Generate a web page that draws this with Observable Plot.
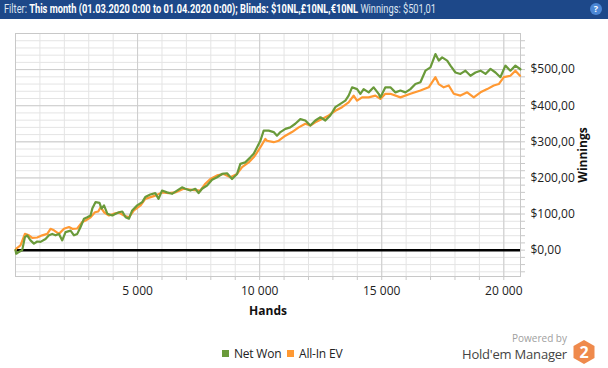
<!DOCTYPE html>
<html>
<head>
<meta charset="utf-8">
<script src="https://cdn.jsdelivr.net/npm/d3@7"></script>
<script src="https://cdn.jsdelivr.net/npm/@observablehq/plot@0.6"></script>
<style>
  html, body { margin: 0; padding: 0; background: #fff; }
  body { width: 608px; height: 368px; position: relative; overflow: hidden; font-family: "Open Sans", "Noto Sans", sans-serif; }
  #header { position: absolute; left: 0; top: 0; width: 608px; height: 19px; background: #1d4889; color: #fff; }
  #htext { position: absolute; left: 4px; top: 0; font-family: Roboto, "Open Sans", sans-serif; font-size: 12px; line-height: 19px; white-space: nowrap; transform-origin: 0 50%; }
  #htext .lbl { color: #dfe6f2; }
  #htext b { font-weight: 700; }
  #help { position: absolute; right: 6px; top: 3px; width: 12px; height: 12px; border-radius: 50%; background: #4a86d4; color: #fff; font-size: 9px; line-height: 12px; text-align: center; font-weight: bold; }
  #chart { position: absolute; left: 0; top: 19px; }
  .leg { position: absolute; top: 345px; font-size: 12px; color: #222; display: flex; align-items: center; letter-spacing: -0.2px; }
  .sw { width: 7px; height: 7px; margin-right: 5px; }
  #powered { position: absolute; right: 41px; top: 333px; font-size: 10px; line-height: 11px; color: #a0a0a0; }
  #hm { position: absolute; right: 41px; top: 347px; font-size: 13px; line-height: 15px; color: #444; letter-spacing: -0.2px; }
  #logo { position: absolute; left: 572px; top: 339px; }
</style>
</head>
<body>
<div id="header"><div id="htext"><span class="lbl">Filter:</span> <b>This month (01.03.2020 0:00 to 01.04.2020 0:00); Blinds: $10NL,£10NL,€10NL</b> <span class="lbl">Winnings: $501,01</span></div><div id="help">?</div></div>
<div id="chart"></div>
<div class="leg" style="left:222px"><div class="sw" style="background:#6a9a3a"></div>Net Won</div>
<div class="leg" style="left:287px"><div class="sw" style="background:#ff9933"></div>All-In EV</div>
<div id="powered">Powered by</div>
<div id="hm">Hold'em Manager</div>
<svg id="logo" width="24" height="26" viewBox="0 0 24 26">
  <polygon points="12,1 22.5,7 22.5,19 12,25 1.5,19 1.5,7" fill="#ef8a4c"/>
  <text x="12" y="19" text-anchor="middle" font-size="16" font-weight="bold" fill="#fff" font-family="Open Sans, sans-serif">2</text>
</svg>
<script>
// Net Won (green)
const netHands = [0,30,140,275,385,480,615,755,890,1025,1230,1370,1505,1640,1780,1915,2050,2255,2395,2530,2665,2805,2940,3075,3145,3280,3440,3525,3625,3760,3965,4100,4240,4375,4510,4645,4780,4985,5190,5315,5520,5725,5860,6000,6205,6410,6615,6820,6955,7160,7365,7500,7640,7845,8050,8255,8460,8665,8870,9075,9210,9410,9620,9755,9895,10030,10165,10370,10575,10710,10850,11055,11255,11460,11665,11870,12075,12280,12490,12690,12895,13100,13305,13510,13645,13785,13990,14125,14260,14465,14670,14875,14945,15150,15355,15560,15765,15970,16175,16380,16585,16790,16995,17200,17335,17475,17680,17815,18020,18225,18430,18635,18840,19045,19250,19455,19660,19860,20065,20270,20475,20680];
const netWon = [0,-10,-5,0,36,41,27,18,24,23,31,41,45,41,45,27,50,54,41,45,64,87,91,96,115,133,131,115,124,101,96,101,105,107,91,87,110,124,133,147,154,158,142,165,160,156,165,174,170,165,170,158,170,179,195,202,211,213,197,211,239,243,257,267,285,303,331,331,327,317,327,336,340,350,363,359,345,359,368,359,373,396,405,414,428,451,446,433,446,437,451,433,423,451,451,437,442,437,446,460,465,497,506,543,525,534,525,511,492,488,497,483,492,497,488,502,492,479,511,497,511,501];
// All-In EV (orange)
const evHands = [0,30,205,385,550,685,890,1095,1300,1435,1575,1780,1985,2190,2325,2530,2735,2870,3075,3255,3390,3485,3625,3830,4035,4240,4440,4645,4850,5125,5315,5725,6000,6270,6545,6885,7230,7570,7775,7980,8255,8525,8800,9075,9280,9550,9755,9895,10030,10235,10300,10575,10780,11055,11325,11600,11870,12075,12280,12555,12830,13100,13375,13645,13850,13990,14195,14465,14740,14945,15150,15355,15765,16175,16585,16925,17200,17335,17540,17745,17950,18225,18500,18770,19045,19320,19590,19795,20000,20270,20475,20665];
const allInEV = [0,4,13,45,41,34,35,41,45,59,55,45,59,64,59,60,78,82,91,105,107,119,105,96,101,104,96,91,110,124,142,151,160,158,160,170,167,165,184,197,207,211,202,211,230,243,257,271,285,308,303,299,303,317,327,340,350,345,354,363,373,386,396,409,428,414,423,423,428,419,433,433,423,433,442,451,479,460,451,456,433,428,437,423,437,446,456,460,479,483,497,483];

const xMajor = [5000, 10000, 15000, 20000];
const xMinor = d3.range(1000, 20684, 1000);
const yMajor = [0, 100, 200, 300, 400, 500];
const yMinor = d3.range(-60, 600, 20);

const net = netHands.map((h, i) => ({h, v: netWon[i]}));
const ev = evHands.map((h, i) => ({h, v: allInEV[i]}));

const fmtX = d => d3.format(",")(d).replace(/,/g, " ");
const fmtY = d => "$" + d + ",00";

const chart = Plot.plot({
  width: 608,
  height: 310,
  marginTop: 14,
  marginLeft: 15,
  marginRight: 88,
  marginBottom: 53,
  style: {fontFamily: "'Open Sans', 'Noto Sans', sans-serif", fontSize: "12px", color: "#222", background: "#fff"},
  x: {domain: [0, 20684], label: null},
  y: {domain: [-73, 600], label: null},
  marks: [
    Plot.ruleX(xMinor, {stroke: "#e4e4e4", strokeWidth: 1}),
    Plot.ruleY(yMinor, {stroke: "#e4e4e4", strokeWidth: 1}),
    Plot.ruleX(xMajor, {stroke: "#cdcdcd", strokeWidth: 1}),
    Plot.ruleY(yMajor, {stroke: "#cdcdcd", strokeWidth: 1}),
    Plot.frame({stroke: "#c8c8c8"}),
    Plot.axisX(xMinor, {anchor: "bottom", tickSize: 4, tickFormat: () => "", stroke: "#c8c8c8", label: null}),
    Plot.axisX(xMajor, {anchor: "bottom", tickSize: 0, tickPadding: 10, tickFormat: fmtX, fontSize: 12, fill: "#222", label: null}),
    Plot.axisY(yMinor, {anchor: "right", tickSize: 4, tickFormat: () => "", stroke: "#c8c8c8", label: null}),
    Plot.axisY(yMajor, {anchor: "right", tickSize: 0, tickPadding: 10, tickFormat: fmtY, fontSize: 12, fill: "#222", label: null, textAnchor: "start"}),
    Plot.text(["Hands"], {frameAnchor: "bottom", dy: 38, fontWeight: "bold", fontSize: 12, fill: "#111"}),
    Plot.text(["Winnings"], {frameAnchor: "right", dx: 63, rotate: -90, textAnchor: "middle", fontWeight: "bold", fontSize: 12, fill: "#111"}),
    Plot.ruleY([0], {stroke: "#000", strokeWidth: 2.5}),
    Plot.line(ev, {x: "h", y: "v", stroke: "#ff9933", strokeWidth: 2.2}),
    Plot.line(net, {x: "h", y: "v", stroke: "#6a9a3a", strokeWidth: 2.2})
  ]
});
document.getElementById("chart").appendChild(chart);

// fit header text to the reference width
const ht = document.getElementById("htext");
const w = ht.getBoundingClientRect().width;
ht.style.transform = "scaleX(" + (432 / w) + ")";
</script>
</body>
</html>
